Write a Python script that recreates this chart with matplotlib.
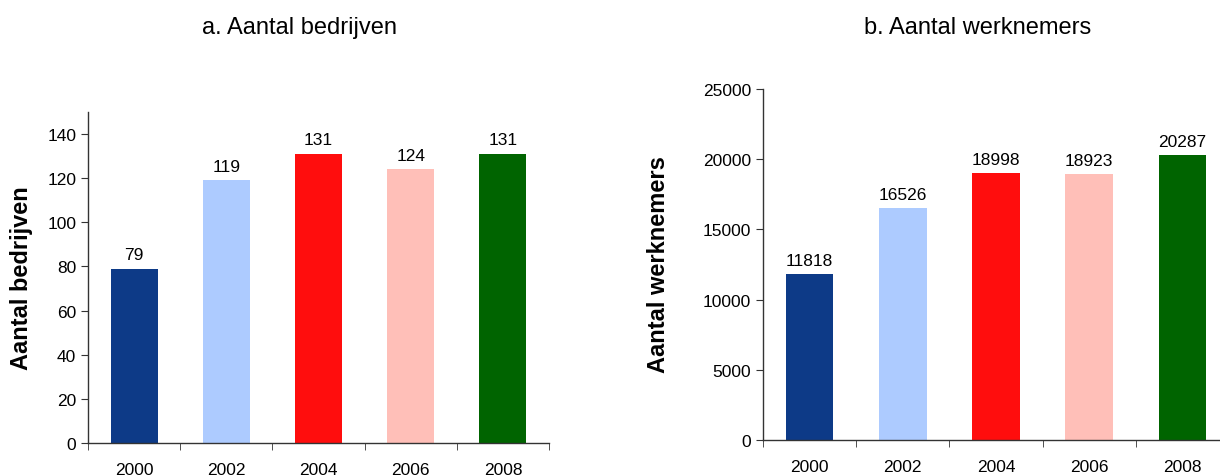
import numpy as np
import matplotlib.pyplot as plt

plt.rcParams['font.family'] = ['Liberation Sans', 'DejaVu Sans']

# aantal bedrijven en werknemers per jaar
jaren = ['2000', '2002', '2004', '2006', '2008']
bedrijven = [79, 119, 131, 124, 131]
werknemers = [11818, 16526, 18998, 18923, 20287]
kleuren = ['#0d3a87', '#adcbff', '#ff0d0d', '#ffbfb8', '#006400']

fig = plt.figure(figsize=(12.2, 4.77), dpi=100)
ax1 = fig.add_axes([88/1220, 1-444/477, 461/1220, 331/477])
ax2 = fig.add_axes([763/1220, 1-441/477, 466/1220, 351/477])


def staafdiagram(ax, waarden, ymax, stap, offset):
    x = np.arange(len(waarden))
    ax.bar(x, waarden, width=0.51, color=kleuren, zorder=2)
    for xi, v in zip(x, waarden):
        ax.text(xi, v + offset, str(v), ha='center', va='bottom', fontsize=12.5)
    ax.set_xlim(-0.5, len(waarden) - 0.5)
    ax.set_ylim(0, ymax)
    ax.set_yticks(np.arange(0, ymax + 1, stap))
    ax.set_xticks(x)
    ax.set_xticklabels(jaren, fontsize=12.5)
    ax.set_xticks(np.arange(-0.5, len(waarden), 1), minor=True)
    ax.tick_params(axis='x', which='major', length=0, pad=14)
    ax.tick_params(axis='x', which='minor', length=5, direction='out', color='#333333')
    ax.tick_params(axis='y', labelsize=12.5, length=5, direction='out', color='#333333')
    for s in ['top', 'right']:
        ax.spines[s].set_visible(False)
    for s in ['left', 'bottom']:
        ax.spines[s].set_color('#333333')
        ax.spines[s].set_linewidth(1)


staafdiagram(ax1, bedrijven, 150, 20, 3)
staafdiagram(ax2, werknemers, 25000, 5000, 450)
ax1.set_yticks(np.arange(0, 141, 20))

fig.text(22/1220, 1-278/477, 'Aantal bedrijven', rotation=90, ha='center', va='center',
         fontsize=17, fontweight='bold')
fig.text(659/1220, 1-265/477, 'Aantal werknemers', rotation=90, ha='center', va='center',
         fontsize=17, fontweight='bold')

fig.text(300/1220, 1-28/477, 'a. Aantal bedrijven', ha='center', va='center', fontsize=17)
fig.text(978/1220, 1-28/477, 'b. Aantal werknemers', ha='center', va='center', fontsize=17)

fig.savefig('out.png', dpi=100)
